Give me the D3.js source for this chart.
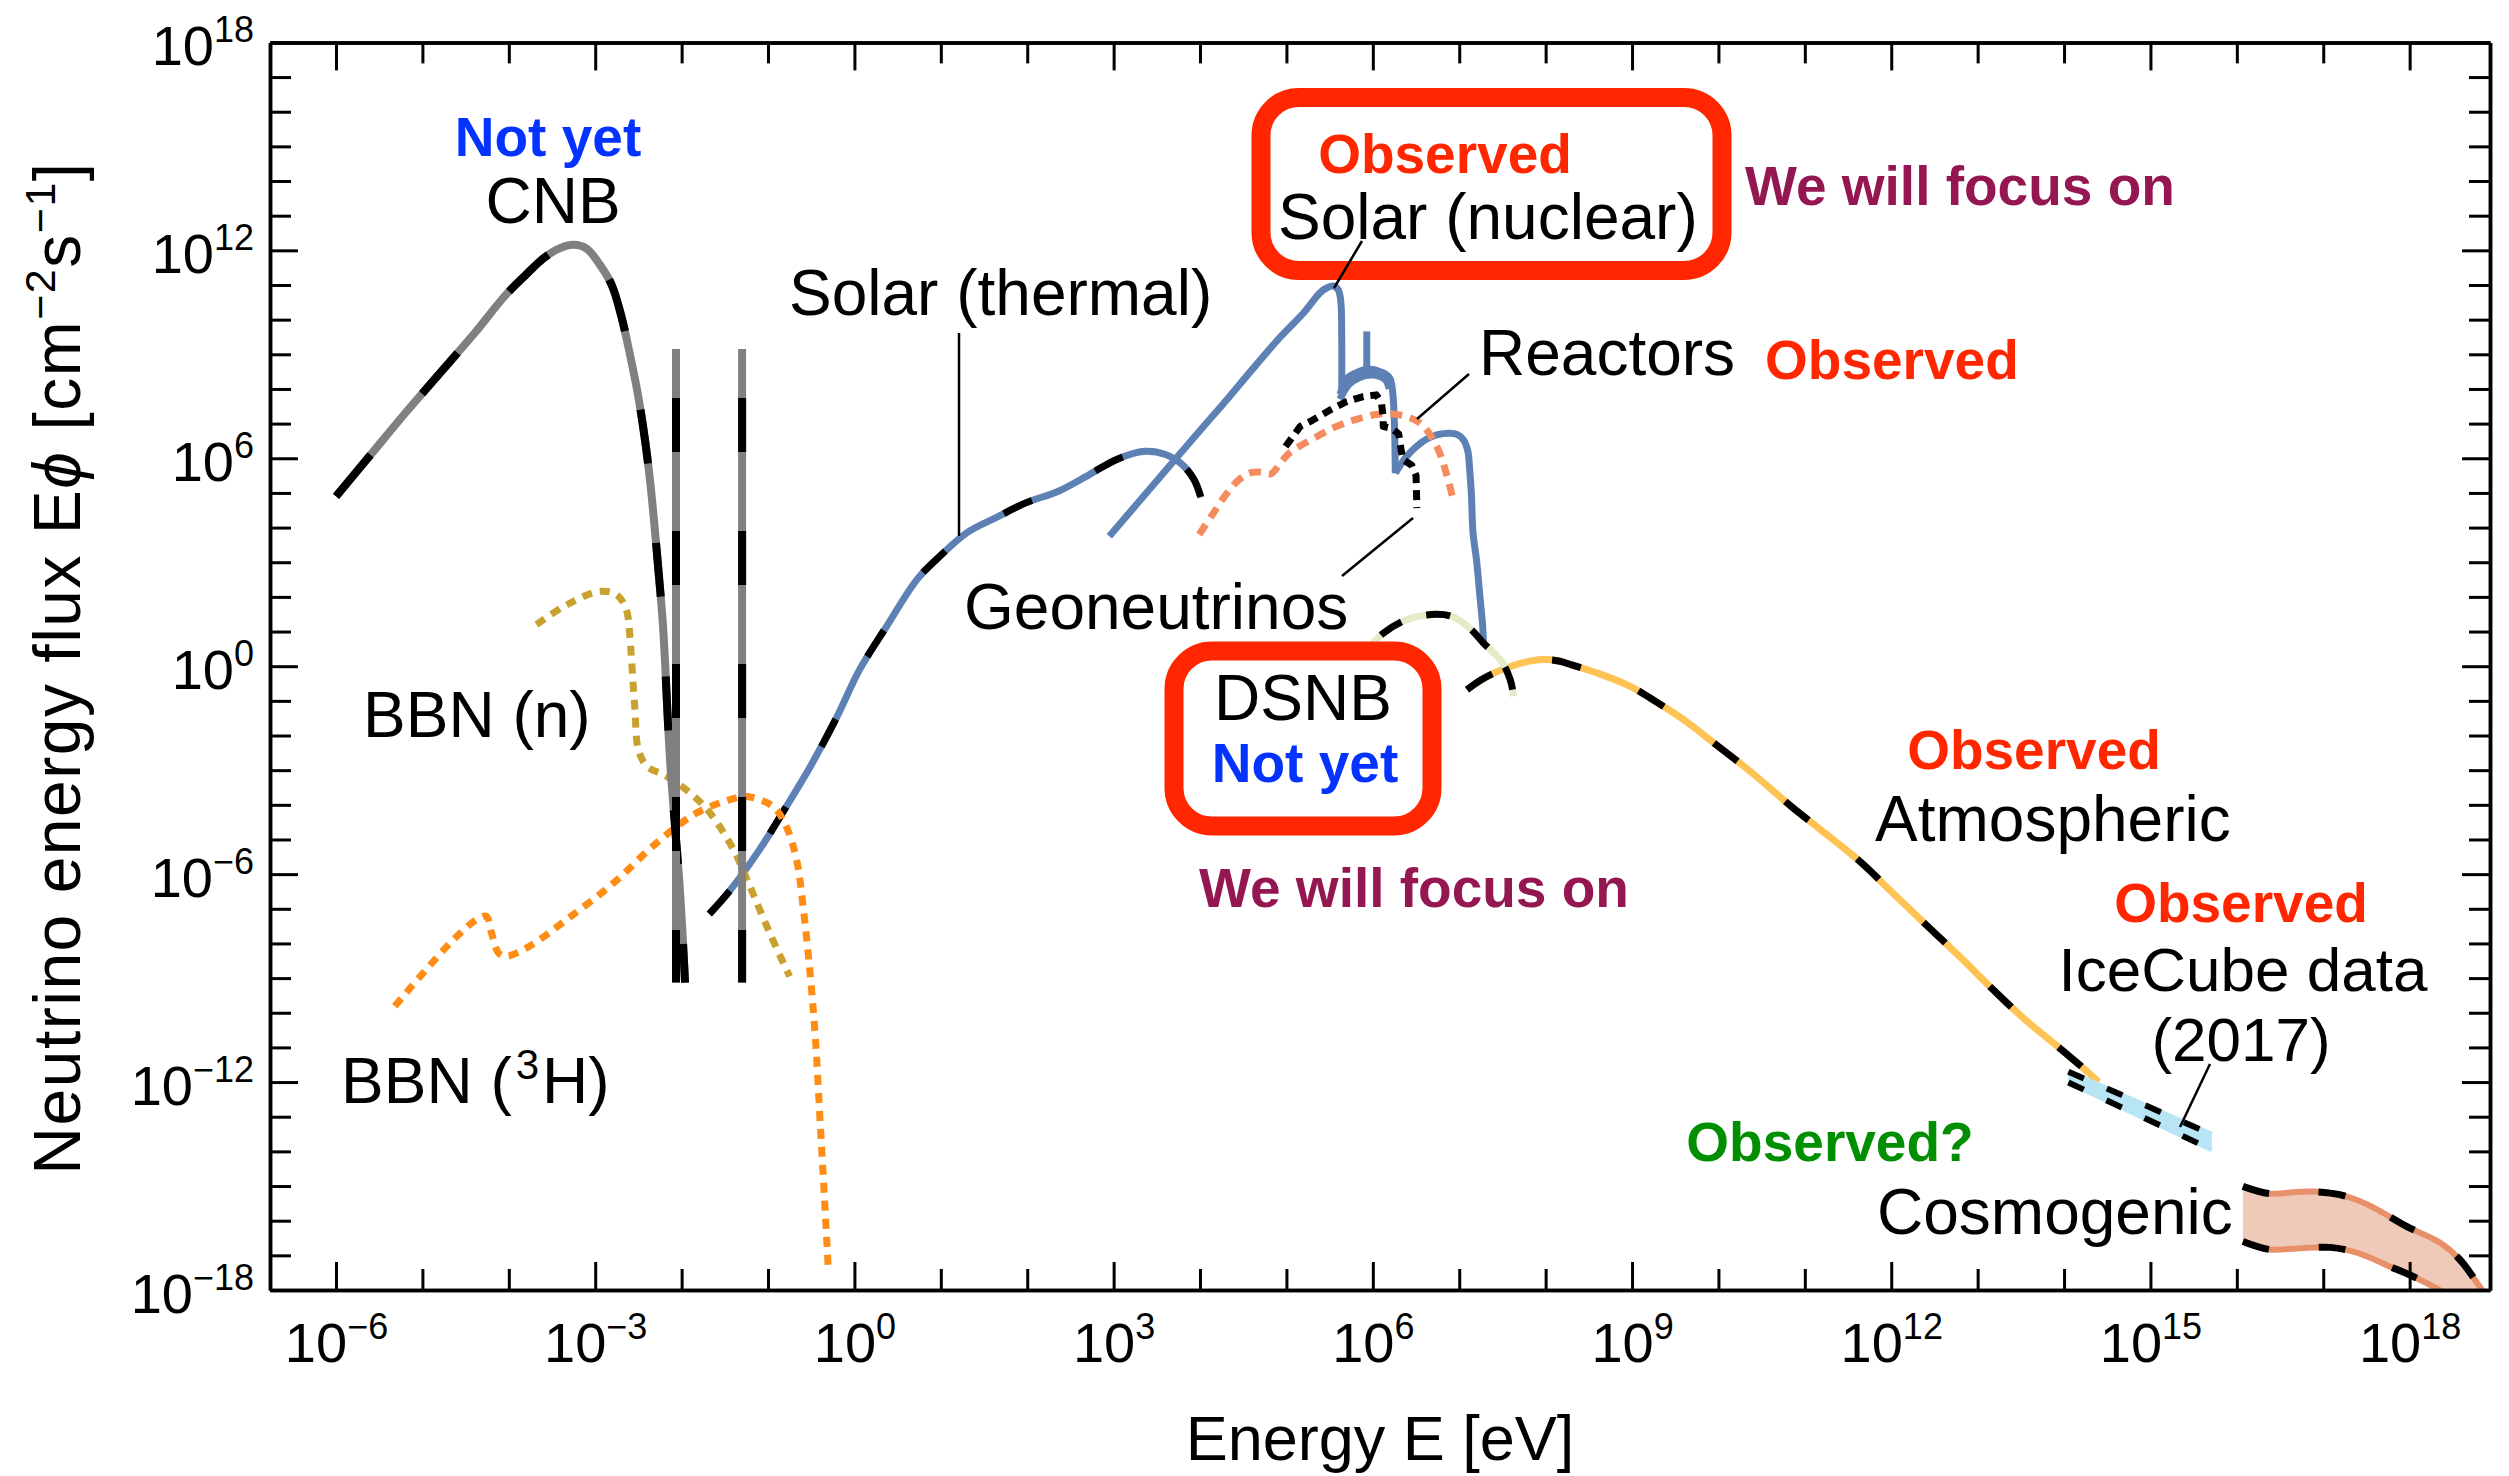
<!DOCTYPE html>
<html>
<head>
<meta charset="utf-8">
<script src="https://cdn.jsdelivr.net/npm/d3@7"></script>
<style>
  html, body { margin: 0; padding: 0; background: #fff; }
  svg { display: block; font-family: "Liberation Sans", Arial, Helvetica, sans-serif; }
</style>
</head>
<body>
<svg id="chart" width="2509" height="1476"></svg>
<script>
// Each spectrum is a list of [log10(E / eV), log10(E·Φ / cm^-2 s^-1)] pairs.
const cnbSpectrum = [[-6.0,4.9],[-5.6,6.1],[-5.2,7.3],[-4.8,8.45],[-4.4,9.6],[-4.04,10.7],[-3.8,11.3],[-3.6,11.77],[-3.42,12.05],[-3.25,12.16],[-3.1,12.05],[-2.945,11.58],[-2.809,11.0],[-2.701,10.13],[-2.597,8.98],[-2.505,7.83],[-2.424,6.53],[-2.366,5.37],[-2.32,4.22],[-2.273,2.9],[-2.215,1.15],[-2.134,-2.7],[-2.018,-6.53],[-1.96,-9.13]];
const cnbMassLineEnergies = [-2.065, -1.30];
const cnbMassLineRange = [9.15, -9.13];
const bbnNeutron = [[-3.68,1.2],[-3.33,1.77],[-2.95,2.16],[-2.75,2.06],[-2.64,1.63],[-2.6,0.9],[-2.58,0.19],[-2.54,-1.25],[-2.5,-2.41],[-2.4,-2.89],[-2.17,-3.18],[-1.9,-3.66],[-1.67,-4.24],[-1.4,-5.29],[-1.21,-6.35],[-0.98,-7.7],[-0.75,-8.95]];
const bbnTritium = [[-5.32,-9.81],[-4.99,-8.85],[-4.64,-7.89],[-4.37,-7.31],[-4.26,-7.22],[-4.2,-7.7],[-4.12,-8.27],[-4.03,-8.37],[-3.76,-8.08],[-3.33,-7.31],[-2.79,-6.26],[-2.29,-5.1],[-1.83,-4.24],[-1.44,-3.85],[-1.25,-3.76],[-0.94,-4.05],[-0.79,-4.62],[-0.67,-5.58],[-0.59,-7.02],[-0.51,-8.95],[-0.45,-10.8],[-0.4,-13.0],[-0.35,-15.2],[-0.3,-17.5]];
const solarThermal = [[-1.68,-7.15],[-1.45,-6.5],[-1.1,-5.3],[-0.81,-4.14],[-0.5,-2.85],[-0.21,-1.5],[0.06,-0.1],[0.38,1.18],[0.73,2.52],[1.0,3.2],[1.3,3.85],[1.64,4.29],[1.99,4.72],[2.36,5.05],[2.72,5.53],[3.03,5.96],[3.36,6.2],[3.6,6.11],[3.77,5.87],[3.93,5.39],[4.01,4.87]];
const solarPP = [[2.95,3.75],[3.5,5.35],[4.0,6.8],[4.31,7.69],[4.6,8.55],[4.93,9.5],[5.2,10.2],[5.39,10.78],[5.47,10.92],[5.54,10.97],[5.6,10.86],[5.63,10.5],[5.64,9.5],[5.64,7.85]];
const solarBe7 = [[5.93,9.66],[5.93,8.55]];
const solarCNO = [[5.62,7.85],[5.7,8.31],[5.8,8.46],[5.89,8.55],[6.0,8.56],[6.08,8.5],[6.15,8.43],[6.2,8.3],[6.23,7.9],[6.25,7.0],[6.26,5.57]];
const solarCNOLow = [[5.62,7.7],[5.72,8.12],[5.85,8.33],[5.98,8.4],[6.08,8.36],[6.15,8.25],[6.19,8.0]];
const solarB8 = [[6.26,5.57],[6.39,6.05],[6.5,6.33],[6.62,6.55],[6.75,6.68],[6.89,6.72],[6.98,6.68],[7.05,6.53],[7.1,6.2],[7.12,5.7],[7.14,5.0],[7.16,3.84],[7.2,3.07],[7.24,2.0],[7.27,1.2],[7.28,0.71]];
const geoneutrinos = [[4.99,6.34],[5.16,6.92],[5.31,7.11],[5.51,7.4],[5.7,7.64],[5.89,7.78],[6.04,7.83],[6.1,7.59],[6.12,7.2],[6.12,6.92],[6.22,6.86],[6.3,6.7],[6.33,6.2],[6.35,5.96],[6.45,5.8],[6.5,5.5],[6.51,4.56]];
const reactors = [[3.99,3.8],[4.15,4.4],[4.3,4.95],[4.45,5.38],[4.58,5.58],[4.7,5.6],[4.82,5.55],[4.93,5.86],[5.02,6.12],[5.16,6.36],[5.35,6.62],[5.51,6.84],[5.7,7.04],[5.86,7.16],[6.08,7.28],[6.31,7.25],[6.55,7.01],[6.74,6.34],[6.85,5.57],[6.93,4.8]];
const dsnb = [[5.75,-0.25],[5.9,0.3],[6.006,0.67],[6.12,0.95],[6.37,1.32],[6.62,1.48],[6.91,1.44],[7.12,1.1],[7.28,0.67],[7.49,0.14],[7.59,-0.39],[7.63,-0.87]];
const atmospheric = [[7.09,-0.68],[7.25,-0.4],[7.4,-0.2],[7.6,0.0],[7.8,0.14],[7.97,0.19],[8.15,0.15],[8.3,0.04],[8.6,-0.2],[8.98,-0.58],[9.21,-0.92],[9.6,-1.55],[9.97,-2.26],[10.4,-3.1],[10.84,-4.04],[11.25,-4.85],[11.65,-5.66],[12.0,-6.5],[12.39,-7.43],[12.8,-8.4],[13.19,-9.36],[13.55,-10.2],[13.93,-10.98],[14.2,-11.55],[14.4,-12.0]];
const iceCubeUpper = [[14.05,-11.7],[15.71,-13.51]];
const iceCubeLower = [[14.05,-12.01],[15.71,-13.95]];
const cosmogenicUpper = [[16.07,-15.01],[16.38,-15.22],[16.7,-15.17],[16.88,-15.16],[17.19,-15.25],[17.51,-15.53],[17.97,-16.17],[18.35,-16.63],[18.58,-17.12],[18.81,-17.9],[18.95,-18.4]];
const cosmogenicLower = [[16.07,-16.6],[16.38,-16.83],[16.7,-16.8],[17.08,-16.77],[17.39,-16.92],[17.77,-17.32],[18.04,-17.61],[18.35,-18.01],[18.58,-18.4]];

// Axis ticks (decade exponents)
const xMajorExponents = [-6, -3, 0, 3, 6, 9, 12, 15, 18];
const xMinorExponents = d3.range(-6, 19).filter(e => e % 3 !== 0);
const yMajorExponents = [-18, -12, -6, 0, 6, 12, 18];
const yMinorExponents = d3.range(-18, 19).filter(e => e % 6 !== 0);

const xTitle = "Energy E [eV]";

const svg = d3.select("#chart");
const plot = { left: 270, right: 2490, top: 42.4, bottom: 1290 };

const x = d3.scaleLog().domain([Math.pow(10, -6.764), Math.pow(10, 18.93)]).range([plot.left, plot.right]);
const y = d3.scaleLog().domain([1e-18, 1e18]).range([plot.bottom, plot.top]);

const px = d => x(Math.pow(10, d[0]));
const py = d => y(Math.pow(10, d[1]));
const smooth = d3.line().x(px).y(py).curve(d3.curveCatmullRom.alpha(0.5));
const straight = d3.line().x(px).y(py);

svg.append("defs").append("clipPath").attr("id", "plotClip")
  .append("rect").attr("x", plot.left).attr("y", plot.top)
  .attr("width", plot.right - plot.left).attr("height", plot.bottom - plot.top);

const curves = svg.append("g").attr("clip-path", "url(#plotClip)");

function stroke(data, color, width, dash, gen, offset) {
  const p = curves.append("path").attr("d", (gen || smooth)(data))
    .attr("fill", "none").attr("stroke", color).attr("stroke-width", width)
    .attr("stroke-linejoin", "round");
  if (dash) p.attr("stroke-dasharray", dash);
  if (offset) p.attr("stroke-dashoffset", offset);
  return p;
}

// Solar (thermal): blue with black dashes
stroke(solarThermal, "#5e81b5", 7);
stroke(solarThermal, "#000", 7, "31,70");

// BBN dotted spectra
stroke(bbnNeutron, "#c9a12e", 7, "10,8");
stroke(bbnTritium, "#ff8c14", 7, "10,8");

// CNB: grey with black dashes, plus the two mass lines
stroke(cnbSpectrum, "#808080", 8);
stroke(cnbSpectrum, "#000", 8, "54,80");
cnbMassLineEnergies.forEach(e => {
  const seg = [[e, cnbMassLineRange[0]], [e, cnbMassLineRange[1]]];
  stroke(seg, "#808080", 8, null, straight);
  stroke(seg, "#000", 8, "54,79", straight, 84);
});

// Solar (nuclear)
[solarPP, solarCNOLow, solarCNO, solarB8].forEach(s => stroke(s, "#5e81b5", 7));
stroke(solarBe7, "#5e81b5", 7, null, straight);

// Reactors and geoneutrinos
stroke(reactors, "#f58c5f", 7, "12,8");
stroke(geoneutrinos, "#000", 7, "10,7", straight);

// Atmospheric and DSNB
stroke(atmospheric, "#fec353", 7);
stroke(atmospheric, "#000", 7, "30,62");
stroke(dsnb, "#e2ecc6", 7);
stroke(dsnb, "#000", 7, "24,26");

// IceCube band
curves.append("path")
  .attr("d", straight(iceCubeUpper.concat(iceCubeLower.slice().reverse())) + "Z")
  .attr("fill", "#b8e5f5").attr("stroke", "none");
[iceCubeUpper, iceCubeLower].forEach(s => {
  stroke(s, "#b8e5f5", 5, null, straight);
  stroke(s, "#000", 6, "17,25", straight);
});

// Cosmogenic band
curves.append("path")
  .attr("d", smooth(cosmogenicUpper) + "L" + smooth(cosmogenicLower.slice().reverse()).slice(1) + "Z")
  .attr("fill", "#f0cab9").attr("stroke", "none");
[cosmogenicUpper, cosmogenicLower].forEach(s => {
  stroke(s, "#e8906a", 6);
  stroke(s, "#000", 7, "27,50");
});

// ---- Axes (inward ticks on all four sides) ----
function styleAxis(g) {
  g.selectAll("path.domain").attr("stroke", "#000").attr("stroke-width", 3.5);
  g.selectAll(".tick line").attr("stroke", "#000").attr("stroke-width", 3);
}
const pow = e => Math.pow(10, e);

function addAxis(axisFn, scale, exps, size, transform, labelled) {
  const g = svg.append("g").attr("transform", transform)
    .call(axisFn(scale).tickValues(exps.map(pow)).tickSizeInner(-size).tickSizeOuter(0));
  styleAxis(g);
  if (!labelled) g.selectAll(".tick text").remove();
  return g;
}

const xb = addAxis(d3.axisBottom, x, xMajorExponents, 28, `translate(0,${plot.bottom})`, true);
addAxis(d3.axisBottom, x, xMinorExponents, 21, `translate(0,${plot.bottom})`);
addAxis(d3.axisTop, x, xMajorExponents, 28, `translate(0,${plot.top})`);
addAxis(d3.axisTop, x, xMinorExponents, 21, `translate(0,${plot.top})`);
const yl = addAxis(d3.axisLeft, y, yMajorExponents, 28, `translate(${plot.left},0)`, true);
addAxis(d3.axisLeft, y, yMinorExponents, 21, `translate(${plot.left},0)`);
addAxis(d3.axisRight, y, yMajorExponents, 28, `translate(${plot.right},0)`);
addAxis(d3.axisRight, y, yMinorExponents, 21, `translate(${plot.right},0)`);

function powerLabel(sel, exp) {
  sel.text(null).attr("dy", null).attr("fill", "#000").attr("font-size", 56)
    .attr("font-family", '"Liberation Sans", Arial, sans-serif');
  sel.append("tspan").text("10");
  sel.append("tspan").attr("dy", -23).attr("font-size", 36)
    .text(String(exp).replace("-", "\u2212"));
}

xb.selectAll(".tick text").each(function(d) {
  const t = d3.select(this).attr("y", 72).attr("text-anchor", "middle");
  powerLabel(t, Math.round(Math.log10(d)));
});
yl.selectAll(".tick text").each(function(d) {
  const t = d3.select(this).attr("x", -16).attr("y", 22).attr("text-anchor", "end");
  powerLabel(t, Math.round(Math.log10(d)));
});

// Axis titles
svg.append("text").attr("x", (plot.left + plot.right) / 2).attr("y", 1460)
  .attr("text-anchor", "middle").attr("font-size", 63).text(xTitle);

const yt = svg.append("text").attr("transform", "translate(80,668) rotate(-90)")
  .attr("text-anchor", "middle").attr("font-size", 66).attr("letter-spacing", 1.5);
yt.append("tspan").text("Neutrino energy flux E");
yt.append("tspan").attr("font-style", "italic").text("\u03d5");
yt.append("tspan").text(" [cm");
yt.append("tspan").attr("dy", -25).attr("font-size", 43).text("\u22122");
yt.append("tspan").attr("dy", 25).text("s");
yt.append("tspan").attr("dy", -25).attr("font-size", 43).text("\u22121");
yt.append("tspan").attr("dy", 25).text("]");

// ---- Annotations ----
const RED = "#ff2600", BLUE = "#0433ff", PURPLE = "#941751", GREEN = "#008f00";
const ann = svg.append("g");

// Rounded red highlight boxes
ann.append("rect").attr("x", 1261).attr("y", 97.5).attr("width", 461).attr("height", 173)
  .attr("rx", 38).attr("fill", "#fff").attr("stroke", RED).attr("stroke-width", 19);
ann.append("rect").attr("x", 1174).attr("y", 651).attr("width", 258).attr("height", 175)
  .attr("rx", 38).attr("fill", "#fff").attr("stroke", RED).attr("stroke-width", 19);

// Leader lines
const leaders = [
  [[959, 333], [959, 536]],
  [[1362, 241], [1334, 288]],
  [[1469, 374], [1417, 419]],
  [[1413, 518], [1342, 576]],
  [[2210, 1064], [2180, 1127]]
];
leaders.forEach(l => ann.append("line")
  .attr("x1", l[0][0]).attr("y1", l[0][1]).attr("x2", l[1][0]).attr("y2", l[1][1])
  .attr("stroke", "#000").attr("stroke-width", 2.5));

const labels = [
  { t: "Not yet", x: 548, y: 156, bold: true, fill: BLUE, anchor: "middle" },
  { t: "CNB", x: 553, y: 223, anchor: "middle" },
  { t: "Solar (thermal)", x: 789, y: 315 },
  { t: "Observed", x: 1445, y: 173, bold: true, fill: RED, anchor: "middle" },
  { t: "Solar (nuclear)", x: 1278, y: 239 },
  { t: "We will focus on", x: 1745, y: 205, bold: true, fill: PURPLE },
  { t: "Reactors", x: 1479, y: 375 },
  { t: "Observed", x: 1765, y: 379, bold: true, fill: RED },
  { t: "Geoneutrinos", x: 964, y: 629 },
  { t: "DSNB", x: 1303, y: 720, anchor: "middle" },
  { t: "Not yet", x: 1305, y: 782, bold: true, fill: BLUE, anchor: "middle" },
  { t: "We will focus on", x: 1414, y: 907, bold: true, fill: PURPLE, anchor: "middle" },
  { t: "BBN (n)", x: 363, y: 737 },
  { t: "Observed", x: 2034, y: 769, bold: true, fill: RED, anchor: "middle" },
  { t: "Atmospheric", x: 1875, y: 841 },
  { t: "Observed", x: 2241, y: 922, bold: true, fill: RED, anchor: "middle" },
  { t: "IceCube data", x: 2243, y: 991, size: 62, anchor: "middle" },
  { t: "(2017)", x: 2241, y: 1061, size: 62, anchor: "middle" },
  { t: "Observed?", x: 1830, y: 1161, bold: true, fill: GREEN, anchor: "middle" },
  { t: "Cosmogenic", x: 1877, y: 1234 }
];
labels.forEach(l => ann.append("text")
  .attr("x", l.x).attr("y", l.y)
  .attr("text-anchor", l.anchor || "start")
  .attr("font-size", l.size || (l.bold ? 55 : 64))
  .attr("font-weight", l.bold ? "bold" : "normal")
  .attr("fill", l.fill || "#000")
  .text(l.t));

const tri = ann.append("text").attr("x", 341).attr("y", 1103).attr("font-size", 64);
tri.append("tspan").text("BBN (");
tri.append("tspan").attr("dx", 4).attr("dy", -24).attr("font-size", 42).text("3");
tri.append("tspan").attr("dx", 3).attr("dy", 24).text("H)");
</script>
</body>
</html>
